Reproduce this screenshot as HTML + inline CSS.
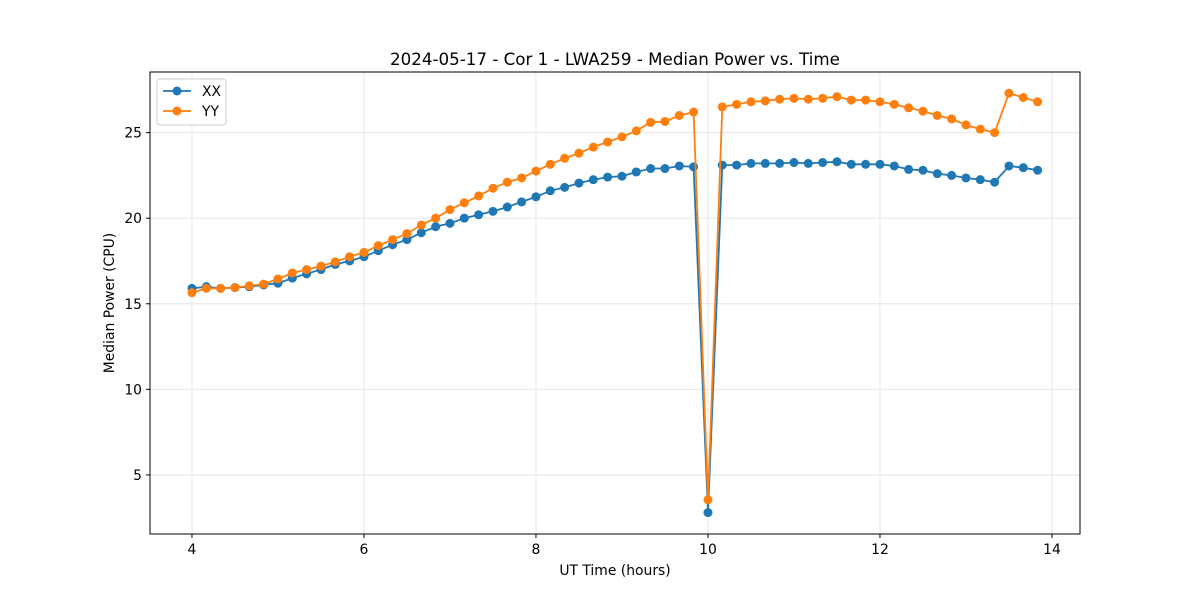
<!DOCTYPE html>
<html><head><meta charset="utf-8"><style>
body{margin:0;background:#fff}
svg{display:block;font-family:"DejaVu Sans","Liberation Sans",sans-serif}
</style></head><body>
<svg id="chart" width="1200" height="600" xmlns="http://www.w3.org/2000/svg">
<rect width="1200" height="600" fill="#fff"/>
<text x="615" y="65" text-anchor="middle" font-size="16.7">2024-05-17 - Cor 1 - LWA259 - Median Power vs. Time</text>
<g id="grid"></g>
<g id="series"></g>
<rect x="150" y="72" width="930" height="462" fill="none" stroke="#000" stroke-width="1"/>
<g id="ticks"></g>
<text x="615" y="575" text-anchor="middle" font-size="13.9">UT Time (hours)</text>
<text transform="translate(114,303) rotate(-90)" text-anchor="middle" font-size="13.9">Median Power (CPU)</text>
<g>
<rect x="157" y="79" width="69" height="46" rx="3" fill="#fff" stroke="#ccc"/>
<g>
<line x1="163" y1="91" x2="191" y2="91" stroke="#1f77b4" stroke-width="1.8"/><circle cx="177" cy="91" r="4.5" fill="#1f77b4"/>
<text x="202" y="96" font-size="13.9">XX</text></g>
<g>
<line x1="163" y1="111" x2="191" y2="111" stroke="#ff7f0e" stroke-width="1.8"/><circle cx="177" cy="111" r="4.5" fill="#ff7f0e"/>
<text x="202" y="116" font-size="13.9">YY</text></g>
</g>
</svg>
<script>
const times = [];
for (let i = 0; i < 60; i++) times.push(4 + i / 6);
const xxValues = [15.9,16.0,15.9,15.95,16.0,16.1,16.2,16.5,16.75,17.0,17.3,17.5,17.75,18.1,18.45,18.75,19.15,19.5,19.7,20.0,20.2,20.4,20.65,20.95,21.25,21.6,21.8,22.05,22.25,22.4,22.45,22.7,22.9,22.9,23.05,23.0,2.8,23.1,23.1,23.2,23.2,23.2,23.25,23.2,23.25,23.3,23.15,23.15,23.15,23.05,22.85,22.8,22.6,22.5,22.35,22.25,22.1,23.05,22.95,22.8];
const yyValues = [15.65,15.9,15.9,15.95,16.05,16.15,16.45,16.8,17.0,17.2,17.45,17.75,18.0,18.4,18.75,19.1,19.6,20.0,20.5,20.9,21.3,21.75,22.1,22.35,22.75,23.15,23.5,23.8,24.15,24.45,24.75,25.1,25.6,25.65,26.0,26.2,3.55,26.5,26.65,26.8,26.85,26.95,27.0,26.95,27.0,27.1,26.9,26.9,26.8,26.65,26.45,26.25,26.0,25.8,25.45,25.2,25.0,27.3,27.05,26.8];
const xTicks = [4,6,8,10,12,14];
const yTicks = [5,10,15,20,25];
const NS = "http://www.w3.org/2000/svg";
const X0=150,X1=1080,Y0=534,Y1=72, xMin=3.512,xMax=14.326,yMin=1.55,yMax=28.54;
const xs = v => X0 + (v - xMin) / (xMax - xMin) * (X1 - X0);
const ys = v => Y0 - (v - yMin) / (yMax - yMin) * (Y0 - Y1);
function mk(tag, attrs, parent){const e=document.createElementNS(NS,tag);for(const k in attrs)e.setAttribute(k,attrs[k]);parent.appendChild(e);return e;}
const grid=document.getElementById('grid'), ticks=document.getElementById('ticks'), series=document.getElementById('series');
xTicks.forEach(t=>{
  const x=xs(t);
  const g=mk('line',{x1:x,x2:x,y1:Y1,y2:Y0,stroke:'#e6e6e6','stroke-width':1},grid);
  
  
  mk('line',{x1:x,x2:x,y1:Y0,y2:Y0+4,stroke:'#000'},ticks);
  const tx=mk('text',{x:x,y:Y0+20,'text-anchor':'middle','font-size':13.9},ticks);
  tx.textContent=t;
  
  
});
yTicks.forEach(t=>{
  const y=ys(t);
  const g=mk('line',{x1:X0,x2:X1,y1:y,y2:y,stroke:'#e6e6e6','stroke-width':1},grid);
  
  
  mk('line',{x1:X0-4,x2:X0,y1:y,y2:y,stroke:'#000'},ticks);
  const tx=mk('text',{x:X0-8,y:y+5,'text-anchor':'end','font-size':13.9},ticks);
  tx.textContent=t;
  
  
});
function draw(vals,color,name){
  const g=mk('g',{},series);
  
  
  const pts=vals.map((v,i)=>xs(times[i]).toFixed(1)+','+ys(v).toFixed(1)).join(' ');
  mk('polyline',{points:pts,fill:'none',stroke:color,'stroke-width':1.8},g);
  vals.forEach((v,i)=>{
    const c=mk('circle',{cx:xs(times[i]),cy:ys(v),r:4.5,fill:color},g);
    
    
  });
}
draw(xxValues,'#1f77b4','series-xx');
draw(yyValues,'#ff7f0e','series-yy');
</script>
</body></html>
